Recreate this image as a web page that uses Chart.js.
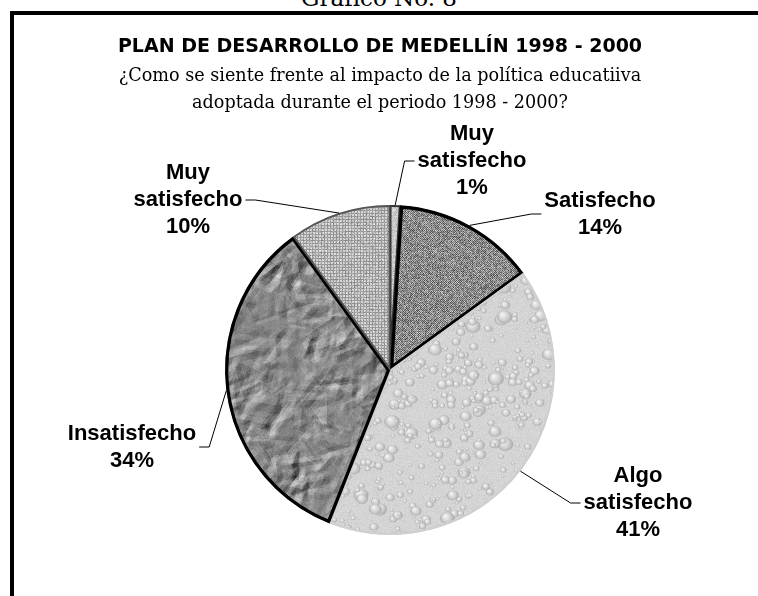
<!DOCTYPE html>
<html lang="es">
<head>
  <meta charset="UTF-8">
  <title>Plan de Desarrollo de Medellín 1998 - 2000</title>
  <script src="https://cdn.jsdelivr.net/npm/chart.js"></script>
  <style>
    html, body { margin: 0; padding: 0; background: #fff; }
    body { width: 758px; height: 596px; position: relative; overflow: hidden; }
    #topLabel {
      position: absolute; left: 0; width: 758px; top: -14px;
      text-align: center; font: 23px "DejaVu Serif", serif; line-height: 24px; color: #000;
    }
    #frame {
      position: absolute; left: 10px; top: 11px; width: 800px; height: 700px;
      border-left: 4px solid #000; border-top: 4px solid #000;
    }
    #wrap { position: absolute; left: 0; top: 0; width: 758px; height: 596px; }
  </style>
</head>
<body>
  <div id="topLabel">Gráfico No. 8</div>
  <div id="frame"></div>
  <div id="wrap"><canvas id="pieChart"></canvas></div>

<script>
  // data (percent)
  const categories = ['Muy satisfecho', 'Satisfecho', 'Algo satisfecho', 'Insatisfecho', 'Muy satisfecho']
  const percents = [1, 14, 41, 34, 10]

  const chartTitle = 'PLAN DE DESARROLLO DE MEDELLÍN 1998 - 2000'
  const chartSubtitle = ['¿Como se siente frente al impacto de la política educatiiva', 'adoptada durante el periodo 1998 - 2000?']

  // where each label sits, relative to the pie centre
  const labelOffsets = [[82, -209], [210, -156], [248, 133], [-258, 77], [-202, -170]]
  const labelLineHeight = 27

  // small seeded generator, only used for the fill textures
  function rng(seed) {
    return function () {
      seed = seed + 0x6D2B79F5 | 0
      let t = Math.imul(seed ^ seed >>> 15, 1 | seed)
      t = t + Math.imul(t ^ t >>> 7, 61 | t) ^ t
      return ((t ^ t >>> 14) >>> 0) / 4294967296
    }
  }

  // height field for the crumpled paper look: lots of short ridges and valleys
  function crumpleHeights(size, r) {
    const h = new Float32Array(size * size)
    for (let n = 0; n < 4200; n++) {
      const x0 = r() * size, y0 = r() * size
      const a = r() * Math.PI * 2, len = 8 + r() * 30
      const x1 = x0 + Math.cos(a) * len, y1 = y0 + Math.sin(a) * len
      const w = 3 + r() * 6, amp = (r() - 0.5) * 0.7
      const minX = Math.max(0, Math.floor(Math.min(x0, x1) - w)), maxX = Math.min(size - 1, Math.ceil(Math.max(x0, x1) + w))
      const minY = Math.max(0, Math.floor(Math.min(y0, y1) - w)), maxY = Math.min(size - 1, Math.ceil(Math.max(y0, y1) + w))
      const dx = x1 - x0, dy = y1 - y0, l2 = dx * dx + dy * dy
      for (let y = minY; y <= maxY; y++) {
        for (let x = minX; x <= maxX; x++) {
          let t = ((x - x0) * dx + (y - y0) * dy) / l2
          t = Math.max(0, Math.min(1, t))
          const ex = x - (x0 + t * dx), ey = y - (y0 + t * dy)
          const d = Math.sqrt(ex * ex + ey * ey)
          if (d < w) h[y * size + x] += amp * (w - d)
        }
      }
    }
    return h
  }

  function texture(kind) {
    const size = 560
    const c = document.createElement('canvas')
    c.width = c.height = size
    const g = c.getContext('2d')
    const r = rng(kind.length * 977 + 13)
    const img = g.createImageData(size, size)
    const d = img.data
    const hm = kind === 'crumple' ? crumpleHeights(size, r) : null
    for (let y = 0; y < size; y++) {
      for (let x = 0; x < size; x++) {
        let v
        if (kind === 'speck') v = 200 + (r() - 0.5) * 50
        else if (kind === 'weave') v = 138 + ((x + y) % 2 ? 30 : -30) + (r() - 0.5) * 90
        else if (kind === 'drops') v = 212 + (r() - 0.5) * 14
        else if (kind === 'crumple') {
          const xa = Math.min(size - 1, x + 1), ya = Math.min(size - 1, y + 1)
          const gx = hm[y * size + xa] - hm[y * size + x]
          const gy = hm[ya * size + x] - hm[y * size + x]
          v = 136 - 48 * (gx + gy) + (r() - 0.5) * 16
        }
        else v = ((x % 3 === 0) || (y % 3 === 0) ? 155 : 208) + (r() - 0.5) * 50
        const i = (y * size + x) * 4
        d[i] = d[i + 1] = d[i + 2] = Math.max(0, Math.min(255, v))
        d[i + 3] = 255
      }
    }
    g.putImageData(img, 0, 0)

    if (kind === 'drops') {
      for (let n = 0; n < 3600; n++) {
        const x = r() * size, y = r() * size, rad = 1.5 + r() * r() * 7
        const gr = g.createRadialGradient(x - rad * 0.3, y - rad * 0.3, rad * 0.1, x, y, rad)
        gr.addColorStop(0, '#f2f2f2')
        gr.addColorStop(0.6, '#cdcdcd')
        gr.addColorStop(1, '#a8a8a8')
        g.fillStyle = gr
        g.beginPath(); g.ellipse(x, y, rad, rad * 0.85, 0, 0, Math.PI * 2); g.fill()
      }
    }
    return g.createPattern(c, 'repeat')
  }

  const titleBlock = {
    id: 'titleBlock',
    beforeDraw(chart) {
      const ctx = chart.ctx
      ctx.save()
      ctx.fillStyle = '#000'
      ctx.textAlign = 'center'
      ctx.textBaseline = 'middle'
      ctx.font = 'bold 19px "DejaVu Sans", Verdana, sans-serif'
      ctx.fillText(chartTitle, 380, 47)
      ctx.font = '17.6px "DejaVu Serif", serif'
      chartSubtitle.forEach((s, k) => ctx.fillText(s, 380, 76 + k * 27))
      ctx.restore()
    }
  }

  const outsideLabels = {
    id: 'outsideLabels',
    afterDatasetsDraw(chart) {
      const ctx = chart.ctx
      const meta = chart.getDatasetMeta(0)
      ctx.save()
      ctx.font = 'bold 22px "Liberation Sans", Arial, sans-serif'
      ctx.textAlign = 'center'
      ctx.textBaseline = 'middle'
      ctx.fillStyle = '#000'
      ctx.strokeStyle = '#000'
      ctx.lineWidth = 1
      meta.data.forEach((arc, i) => {
        const p = arc.getProps(['x', 'y', 'startAngle', 'endAngle', 'outerRadius'], true)
        const mid = (p.startAngle + p.endAngle) / 2
        const px = p.x + Math.cos(mid) * p.outerRadius
        const py = p.y + Math.sin(mid) * p.outerRadius
        const lines = categories[i].split(' ').concat([percents[i] + '%'])
        const cx = p.x + labelOffsets[i][0]
        const cy = p.y + labelOffsets[i][1]
        const w = Math.max(...lines.map(s => ctx.measureText(s).width))
        const h = lines.length * labelLineHeight
        const side = labelOffsets[i][0] > 0 ? -1 : 1
        const ex = cx + side * (w / 2 + 3)
        ctx.beginPath()
        ctx.moveTo(ex, cy)
        ctx.lineTo(ex + side * 10, cy)
        ctx.lineTo(px, py)
        ctx.stroke()
        lines.forEach((s, k) => ctx.fillText(s, cx, cy - h / 2 + labelLineHeight * (k + 0.5)))
      })
      ctx.restore()
    }
  }

  const chartContext = document.getElementById('pieChart')
  new Chart(chartContext, {
    type: 'pie',
    data: {
      labels: categories,
      datasets: [{
        data: percents,
        backgroundColor: ['speck', 'weave', 'drops', 'crumple', 'grid'].map(texture),
        borderColor: ['#333', '#000', '#cfcfcf', '#000', '#555'],
        borderWidth: [1.5, 3, 2, 3, 1.5],
        borderAlign: 'inner'
      }]
    },
    options: {
      responsive: true,
      maintainAspectRatio: false,
      animation: false,
      events: [],
      radius: 165,
      layout: { padding: { left: 22, right: 0, bottom: 61, top: 205 } },
      plugins: {
        legend: { display: false },
        tooltip: { enabled: false },
        title: { display: false }
      }
    },
    plugins: [titleBlock, outsideLabels]
  })
</script>
</body>
</html>
